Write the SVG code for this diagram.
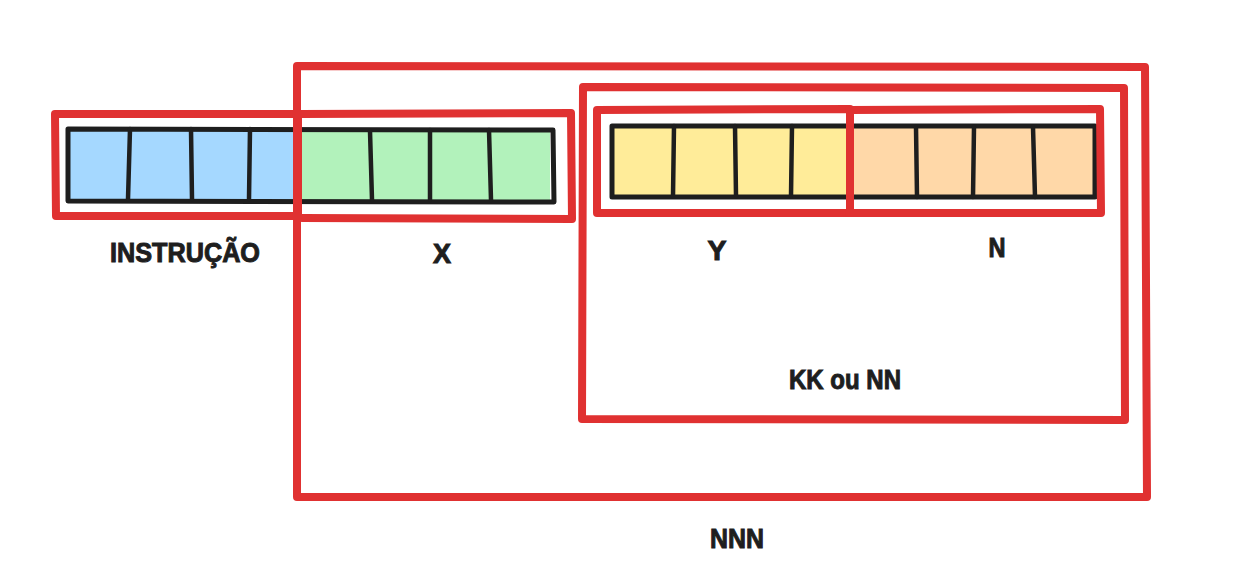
<svg xmlns="http://www.w3.org/2000/svg" width="1234" height="586" viewBox="0 0 1234 586">
<style>
.bar{stroke:#1e1e1e;stroke-width:5;fill:none;stroke-linejoin:round;stroke-linecap:round}
.div{stroke:#1e1e1e;stroke-width:4.5;stroke-linecap:round}
.red{stroke:#e03131;stroke-width:8;fill:none;stroke-linejoin:round;stroke-linecap:round}
.lbl{font-family:"Liberation Sans",Arial,sans-serif;font-weight:bold;font-size:27px;fill:#1e1e1e;stroke:#1e1e1e;stroke-width:1;text-anchor:middle}
</style>
<rect width="1234" height="586" fill="#ffffff"/>
<g id="bar-instrucao-x">
  <rect x="68" y="129" width="230" height="72" fill="#a5d8ff"/>
  <rect x="298" y="129" width="252" height="72" fill="#b2f2bb"/>
  <path class="bar" d="M68 129 L553 130 L554 202 L68 201 Z"/>
  <line class="div" x1="130" y1="129" x2="128" y2="199"/>
  <line class="div" x1="191" y1="129" x2="192" y2="199"/>
  <line class="div" x1="250" y1="129" x2="249" y2="199"/>
  <line class="div" x1="370" y1="131" x2="372" y2="200"/>
  <line class="div" x1="430" y1="130" x2="430" y2="200"/>
  <line class="div" x1="489" y1="130" x2="491" y2="200"/>
</g>
<g id="bar-y-n">
  <rect x="613" y="126" width="237" height="71" fill="#ffec99"/>
  <rect x="850" y="126" width="243" height="71" fill="#ffd8a8"/>
  <path class="bar" d="M612 126 L1095 126 L1095 197 L612 197 Z"/>
  <line class="div" x1="674" y1="126" x2="673" y2="196"/>
  <line class="div" x1="735" y1="126" x2="736" y2="196"/>
  <line class="div" x1="792" y1="126" x2="791" y2="196"/>
  <line class="div" x1="916" y1="127" x2="917" y2="197"/>
  <line class="div" x1="974" y1="127" x2="973" y2="197"/>
  <line class="div" x1="1033" y1="127" x2="1035" y2="197"/>
</g>
<g id="box-instrucao">
  <path class="red" d="M55 114 L298 114 L298 216 L56 216 Z"/>
  <text class="lbl" x="185" y="262" textLength="150" lengthAdjust="spacingAndGlyphs">INSTRUÇÃO</text>
</g>
<g id="box-x">
  <path class="red" d="M300 114 L571 113 L572 219 L302 218"/>
  <text class="lbl" x="442" y="263" textLength="18" lengthAdjust="spacingAndGlyphs">X</text>
</g>
<g id="box-nnn">
  <path class="red" d="M297 66 L1145 67 L1147 497 L297 497 Z"/>
  <text class="lbl" x="737" y="548" textLength="54" lengthAdjust="spacingAndGlyphs">NNN</text>
</g>
<g id="box-kknn">
  <path class="red" d="M583 87 L1124 88 L1125 420 L582 419 Z"/>
  <text class="lbl" x="845" y="389" textLength="112" lengthAdjust="spacingAndGlyphs">KK ou NN</text>
</g>
<g id="box-y">
  <path class="red" d="M597 110 L850 109 L850 213 L597 213 Z"/>
  <text class="lbl" x="717" y="260" textLength="19" lengthAdjust="spacingAndGlyphs">Y</text>
</g>
<g id="box-n">
  <path class="red" d="M849 110 L1100 109 L1101 213 L849 213"/>
  <text class="lbl" x="997" y="257" textLength="17" lengthAdjust="spacingAndGlyphs">N</text>
</g>
<g id="connectors"></g>
</svg>
